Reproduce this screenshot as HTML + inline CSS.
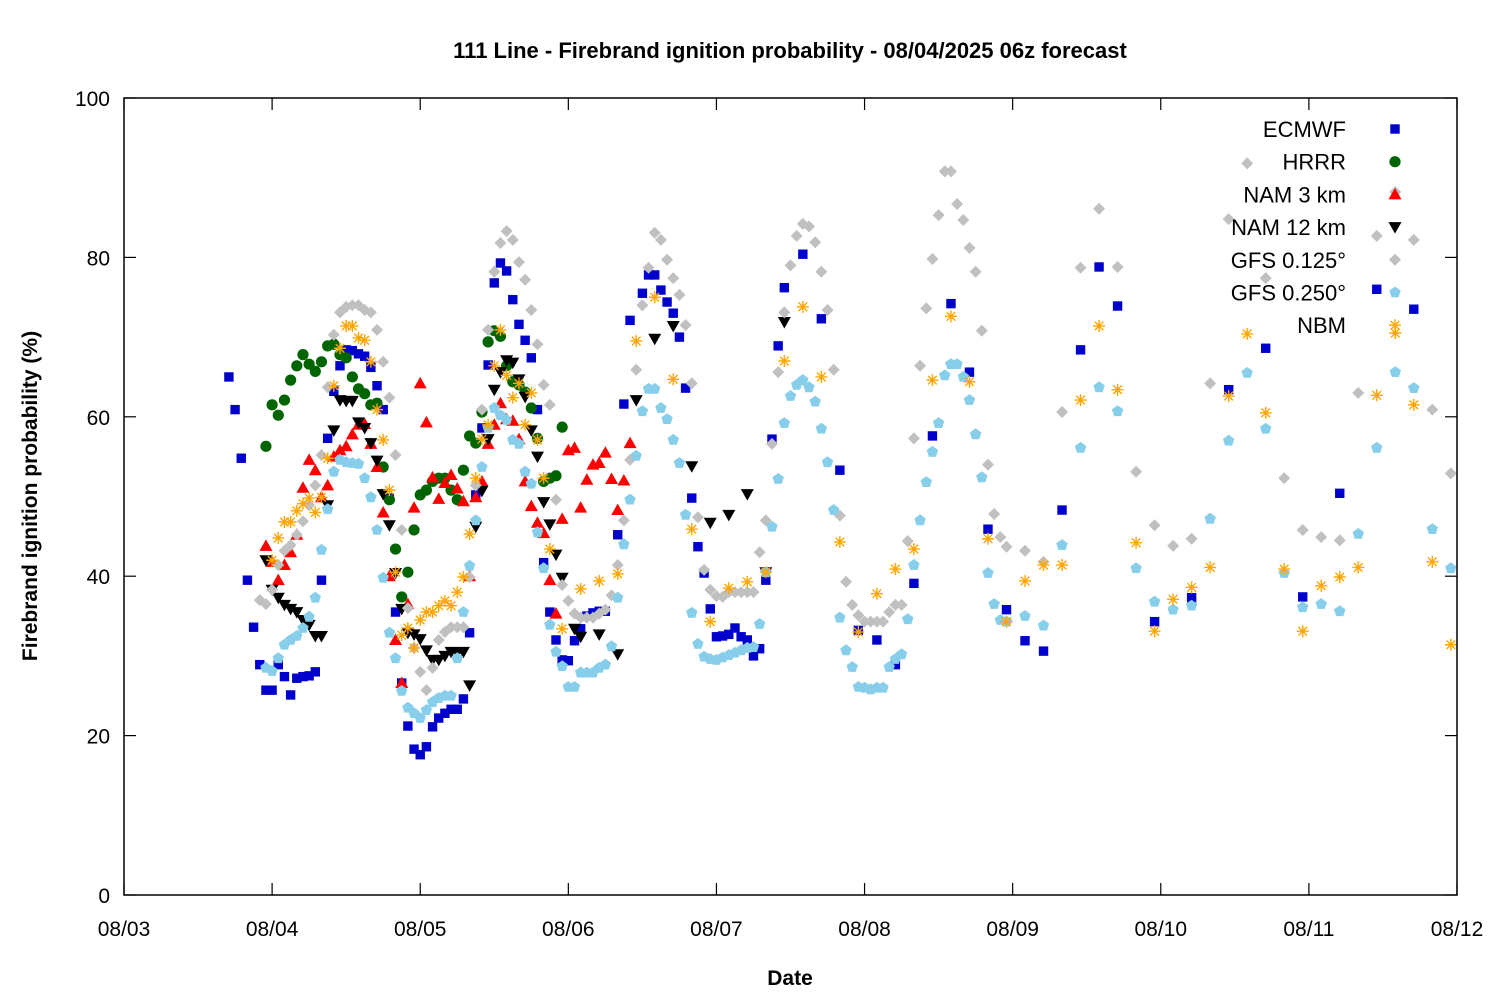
<!DOCTYPE html>
<html><head><meta charset="utf-8"><title>Firebrand ignition probability</title>
<style>
html,body{margin:0;padding:0;background:#fff;}
svg{display:block;font-family:"Liberation Sans","DejaVu Sans",sans-serif;}
</style></head>
<body>
<svg id="chart" width="1500" height="1000" viewBox="0 0 1500 1000" xmlns="http://www.w3.org/2000/svg">
<rect x="0" y="0" width="1500" height="1000" fill="#fff"/>
<text x="790" y="58" text-anchor="middle" font-size="22" font-weight="bold">111 Line - Firebrand ignition probability - 08/04/2025 06z forecast</text>
<text transform="translate(37,496) rotate(-90)" text-anchor="middle" font-size="21" font-weight="bold">Firebrand ignition probability (%)</text>
<text x="790" y="985" text-anchor="middle" font-size="21" font-weight="bold">Date</text>
<g id="axes"></g>
<g id="marks"></g>
<g id="legend"></g>
<rect x="124" y="98" width="1333" height="797" fill="none" stroke="#000" stroke-width="1.5"/>
</svg>
<script>
// ---- data (hours since 08/03 00z, probability %) ----
function seq(a,b,s){var r=[];for(var v=a;v<=b;v+=s)r.push(v);return r;}
const xTickLabels=["08/03","08/04","08/05","08/06","08/07","08/08","08/09","08/10","08/11","08/12"];
const yTickLabels=[0,20,40,60,80,100];
const seriesNames=["ECMWF","HRRR","NAM 3 km","NAM 12 km","GFS 0.125°","GFS 0.250°","NBM"];

const ecmwfHours=seq(17,78,1).concat([80,81,82]).concat(seq(84,107,1)).concat(seq(110,161,3)).concat(seq(167,209,6));
const ecmwfValues=[65,60.9,54.8,39.5,33.6,28.9,25.7,25.7,28.9,27.4,25.1,27.2,27.4,27.5,28,39.5,57.3,63.2,66.4,68.4,68.3,67.9,67.6,66.2,63.9,60.9,49.8,35.5,26.6,21.2,18.3,17.6,18.6,21.1,22.2,22.8,23.3,23.3,24.6,32.9,50.2,58.6,66.5,76.8,79.3,78.3,74.7,71.6,69.6,67.4,60.9,41.7,35.5,32,29.5,29.4,31.9,33.4,35,35.4,35.6,35.6,
45.2,61.6,72.1,
75.5,77.8,77.8,75.9,74.4,73,70,63.6,49.8,43.7,40.4,35.9,32.4,32.5,32.7,33.5,32.4,32,30,30.9,39.5,57.2,68.9,76.2,
80.4,72.3,53.3,33.2,32,28.9,39.1,57.6,74.2,65.6,45.9,35.8,31.9,30.6,48.3,68.4,78.8,73.9,
34.3,37.3,63.4,68.6,37.4,50.4,76,73.5];

const hrrrHours=seq(23,71,1);
const hrrrValues=[56.3,61.5,60.2,62.1,64.6,66.4,67.8,66.6,65.7,66.9,68.9,69.1,67.8,67.4,65,63.5,62.9,61.5,61.7,53.7,49.6,43.4,37.4,40.5,45.8,50.2,50.8,51.9,52.3,52.3,50.8,49.6,53.3,57.6,56.7,60.6,69.4,70.8,70.1,66.4,64.4,64,63.1,61.1,57.3,51.9,52.3,52.6,58.7];

const nam3Hours=seq(23,82,1);
const nam3Values=[43.8,41.8,39.5,41.4,43,45.2,51.1,54.6,53.3,49.9,51.4,55,55.8,56.3,57.8,59,59.1,56.6,53.7,48,40,32,26.6,36.5,48.6,64.2,59.3,52.4,49.7,51.7,52.7,51,49.4,40,49.9,51.9,56.6,59,61.7,59.7,59.5,57.2,51.9,48.8,46.7,45.4,39.5,35.3,47.2,55.8,56.1,48.6,52.1,54,54.2,55.5,52.2,48.3,52,56.7];

const nam12Hours=seq(23,71,1).concat([73,74,77,80,83,86,89,92,95,98,101,104,107]);
const nam12Values=[42,38.3,37.3,36.4,35.9,35.5,34.5,33.9,32.5,32.5,48.9,58.3,62.1,62,62,59.3,58.6,56.7,54.5,50.3,46.4,40.4,35.9,32.9,32.7,32.1,30.7,29.5,29.5,30,30.5,30.4,30.5,26.3,46.2,50.7,57.2,63.4,65.6,67.1,66.8,64.7,62.5,58.3,55,49.3,46.5,42.7,39.8,
33.4,32.4,32.7,30.2,62.1,69.8,71.4,53.8,46.7,47.7,50.3,40.5,71.9];

const gfs125Hours=seq(22,143,1).concat(seq(146,215,3));
const gfs125Values=[37,36.5,38.3,41.4,43.2,43.9,45.2,46.9,48.9,51.4,55.2,63.7,70.3,73.1,73.8,74,74,73.4,73.1,70.9,66.9,62.4,55.2,45.8,36,31,28,25.7,28.5,32,33,33.6,33.6,33.6,39.9,51.4,60.9,70.9,78.2,81.8,83.3,82.2,79.4,77.2,73.4,69.1,64,61.5,49.6,38.9,36.9,35.3,34.8,34.8,34.8,35.3,35.8,37.6,41.4,47,54.6,65.9,74,78.7,83.1,82.2,79.7,77.4,75.3,71.5,64.2,47.4,40.8,38.3,37.5,37.4,38,38,38,38,38,43,47,56.6,65.6,73.1,79,82.7,84.2,83.9,81.9,78.2,73.4,65.9,47.6,39.3,36.4,35.1,34.3,34.3,34.3,34.3,35.5,36.4,36.4,
44.4,57.3,66.4,73.6,79.8,85.3,90.8,90.8,86.7,84.7,81.2,78.2,70.8,54,47.8,44.9,43.7,
43.2,41.8,60.6,78.7,86.1,78.8,53.1,46.4,43.8,44.7,64.2,84.8,91.8,77.4,52.3,45.8,44.9,44.5,63,82.7,88.2,82.2,60.9,52.9];

const gfs250Hours=seq(23,143,1).concat(seq(146,215,3));
const gfs250Values=[28.5,28.1,29.7,31.4,32,32.5,33.5,34.9,37.3,43.3,48.4,53.1,54.6,54.3,54.2,54.1,52.3,49.9,45.8,39.8,32.9,29.7,25.6,23.5,22.8,22.2,23.2,24.2,24.7,25,25,29.7,35.5,41.3,47,53.7,58.6,61.1,60.2,59.6,57.1,56.6,53.1,51.6,45.5,41,33.9,30.5,28.7,
26.1,26.1,27.9,27.9,27.9,28.5,28.9,31.2,37.3,44,49.6,55.1,60.7,63.5,63.5,61.1,59.7,57.1,54.2,47.7,35.4,31.5,29.9,29.6,29.5,29.8,30.1,30.4,30.7,31,31.1,34,40.5,46.2,52.2,59.2,62.6,64,64.6,63.7,61.9,58.5,54.3,48.3,34.8,30.7,28.6,26.1,26,25.8,26,26,28.6,29.6,30.2,34.6,41.4,47,51.8,55.6,59.2,65.2,66.6,66.6,65,62.1,57.8,52.4,40.4,36.5,34.5,34.3,
35,33.8,43.9,56.1,63.7,60.7,41,36.8,35.8,36.3,47.2,57,65.5,58.5,40.4,36.1,36.5,35.6,45.3,56.1,65.6,63.6,45.9,41];

const nbmHours=seq(24,69,1).concat(seq(71,215,3));
const nbmValues=[42,44.8,46.8,46.8,48.2,49.1,49.8,48,49.9,54.8,63.9,68.6,71.4,71.4,69.9,69.6,66.9,60.9,57.1,50.8,40.5,32.6,33.5,31,34.5,35.5,35.5,36.3,36.9,36.3,38,39.9,45.3,52.3,57.2,59,66.4,70.9,65.2,62.4,64.2,59,63,57.1,52.3,43.4,
33.4,38.4,39.4,40.3,69.5,75,64.7,45.9,34.3,38.5,39.3,40.5,67,73.8,65,44.3,33,37.8,40.9,43.4,64.6,72.6,64.4,44.7,34.3,39.4,41.4,41.4,62.1,71.4,63.4,44.2,33.1,37.1,38.6,41.1,62.6,70.4,60.5,40.9,33.1,38.8,39.9,41.1,62.7,70.5,61.5,41.8,31.4];

// ---- axes ----
const NS="http://www.w3.org/2000/svg";
const PX0=124,PX1=1457,PY0=895,PY1=98,HMAX=216;
function xs(h){return PX0+(h/HMAX)*(PX1-PX0);}
function ys(v){return PY0-(v/100)*(PY0-PY1);}
function mk(tag,attrs,parent){var e=document.createElementNS(NS,tag);for(var k in attrs)e.setAttribute(k,attrs[k]);parent.appendChild(e);return e;}
const axes=document.getElementById('axes');
yTickLabels.forEach(function(v){
  var y=ys(v);
  var t1=mk('line',{x1:PX0,y1:y,x2:PX0+12,y2:y,stroke:'#000','stroke-width':1.2},axes);
  
  
  var t2=mk('line',{x1:PX1-12,y1:y,x2:PX1,y2:y,stroke:'#000','stroke-width':1.2},axes);
  
  
  var tx=mk('text',{x:110,y:y+8,'text-anchor':'end','font-size':21},axes);
  tx.textContent=String(v);
  
  
});
xTickLabels.forEach(function(lab,i){
  var x=xs(i*24);
  var t1=mk('line',{x1:x,y1:PY0,x2:x,y2:PY0-12,stroke:'#000','stroke-width':1.2},axes);
  
  
  var t2=mk('line',{x1:x,y1:PY1,x2:x,y2:PY1+12,stroke:'#000','stroke-width':1.2},axes);
  
  
  var tx=mk('text',{x:x,y:936,'text-anchor':'middle','font-size':21},axes);
  tx.textContent=lab;
  
  
});

// ---- markers ----
function marker(kind,x,y,parent){
  var e;
  if(kind==='square'){e=mk('rect',{x:x-4.7,y:y-4.7,width:9.4,height:9.4,fill:'#0000cc'},parent);}
  else if(kind==='circle'){e=mk('circle',{cx:x,cy:y,r:5.6,fill:'#006400'},parent);}
  else if(kind==='tri'){e=mk('polygon',{points:(x)+','+(y-6.5)+' '+(x-6.5)+','+(y+5)+' '+(x+6.5)+','+(y+5),fill:'#ff0000'},parent);}
  else if(kind==='itri'){e=mk('polygon',{points:(x)+','+(y+6.5)+' '+(x-6.5)+','+(y-5)+' '+(x+6.5)+','+(y-5),fill:'#000'},parent);}
  else if(kind==='diamond'){e=mk('polygon',{points:(x)+','+(y-6)+' '+(x+6)+','+(y)+' '+(x)+','+(y+6)+' '+(x-6)+','+(y),fill:'#c0c0c0'},parent);}
  else if(kind==='pent'){var p=[];for(var k=0;k<5;k++){var a=-Math.PI/2+k*2*Math.PI/5;p.push((x+6*Math.cos(a)).toFixed(1)+','+(y+6*Math.sin(a)).toFixed(1));}e=mk('polygon',{points:p.join(' '),fill:'#87ceeb'},parent);}
  else {var d='M'+(x-6)+','+y+'H'+(x+6)+'M'+x+','+(y-6)+'V'+(y+6)+'M'+(x-4.3)+','+(y-4.3)+'L'+(x+4.3)+','+(y+4.3)+'M'+(x-4.3)+','+(y+4.3)+'L'+(x+4.3)+','+(y-4.3);
    e=mk('path',{d:d,stroke:'#ffa500','stroke-width':1.4,fill:'none'},parent);}
  return e;
}
const marks=document.getElementById('marks');
const seriesDefs=[
  ['ecmwf','square',ecmwfHours,ecmwfValues],
  ['hrrr','circle',hrrrHours,hrrrValues],
  ['nam-3km','tri',nam3Hours,nam3Values],
  ['nam-12km','itri',nam12Hours,nam12Values],
  ['gfs-0125','diamond',gfs125Hours,gfs125Values],
  ['gfs-0250','pent',gfs250Hours,gfs250Values],
  ['nbm','star',nbmHours,nbmValues]
];
seriesDefs.forEach(function(s){
  var g=mk('g',{},marks);
  
  
  var n=Math.min(s[2].length,s[3].length);
  for(var i=0;i<n;i++){
    var m=marker(s[1],xs(s[2][i]),ys(s[3][i]),g);
    
    
  }
});

// ---- legend ----
const legend=document.getElementById('legend');
seriesDefs.forEach(function(s,i){
  var y=129+i*32.7;
  var g=mk('g',{},legend);
  
  
  var t=mk('text',{x:1346,y:y+8,'text-anchor':'end','font-size':22},g);
  t.textContent=seriesNames[i];
  
  
  var m=marker(s[1],1395,y,g);
  
  
});
</script>
</body></html>
